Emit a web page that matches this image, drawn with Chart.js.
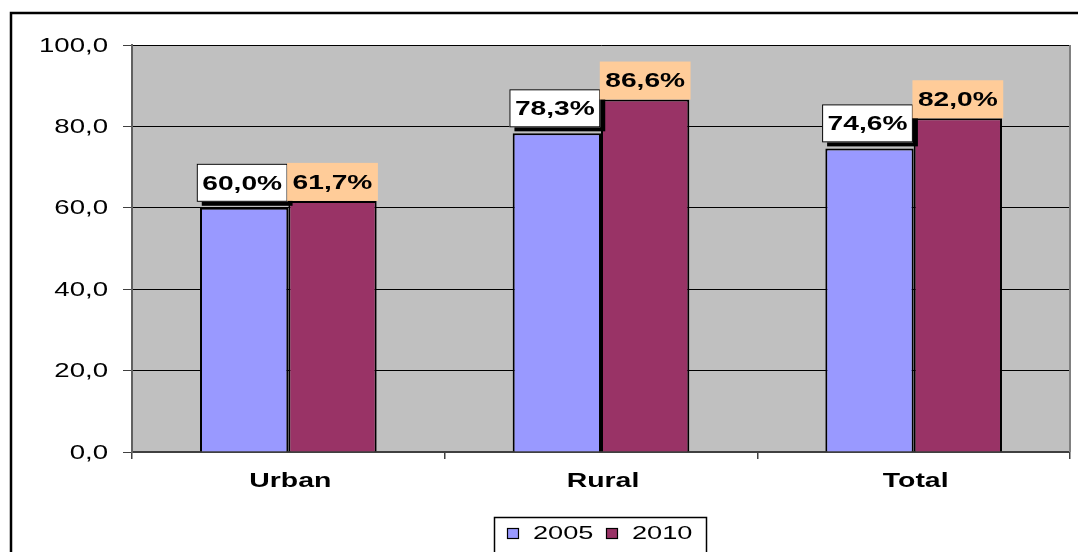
<!DOCTYPE html>
<html>
<head>
<meta charset="utf-8">
<script src="https://cdn.jsdelivr.net/npm/chart.js@4/dist/chart.umd.min.js"></script>
<style>
  html, body { margin: 0; padding: 0; background: #fff; }
  #wrap { position: relative; width: 1078px; height: 552px; }
</style>
</head>
<body>
<div id="wrap"><canvas id="myChart" width="1078" height="552"></canvas></div>
<script>
var categories = ['Urban', 'Rural', 'Total'];
var years = ['2005', '2010'];
var values2005 = [60.0, 78.3, 74.6];
var values2010 = [61.7, 86.6, 82.0];
var yTicks = [0, 20, 40, 60, 80, 100];

var FONT = '"Liberation Sans", Arial, sans-serif';

function fmt(v) {
    return v.toFixed(1).replace('.', ',');
}

// El texto del original está estirado en horizontal: se dibuja con escala
function wideText(ctx, text, x, y, align, sx) {
    ctx.save();
    ctx.translate(x, y);
    ctx.scale(sx, 1);
    ctx.textAlign = align;
    ctx.textBaseline = 'middle';
    ctx.fillText(text, 0, 0);
    ctx.restore();
}

// Fondo gris del área del gráfico, marco exterior, rótulos de ejes y leyenda
var decor = {
    id: 'decor',
    beforeDraw: function(chart) {
        var ctx = chart.ctx, a = chart.chartArea;
        ctx.save();
        ctx.fillStyle = '#c0c0c0';
        ctx.fillRect(a.left, a.top, a.right - a.left, a.bottom - a.top);
        ctx.strokeStyle = '#000';
        ctx.lineWidth = 2.5;
        ctx.strokeRect(11, 13, 1200, 700);
        ctx.restore();
    },
    afterDraw: function(chart) {
        var ctx = chart.ctx, a = chart.chartArea;
        var xs = chart.scales.x, ys = chart.scales.y;
        ctx.save();
        // borde derecho del área
        ctx.strokeStyle = '#808080';
        ctx.lineWidth = 2;
        ctx.beginPath();
        ctx.moveTo(a.right, a.top);
        ctx.lineTo(a.right, a.bottom);
        ctx.stroke();

        ctx.fillStyle = '#000';
        // rótulos del eje Y
        ctx.font = '20px ' + FONT;
        ys.ticks.forEach(function(t) {
            wideText(ctx, fmt(t.value), 108, ys.getPixelForValue(t.value) + 1, 'right', 1.38);
        });
        // rótulos del eje X
        ctx.font = 'bold 20px ' + FONT;
        chart.data.labels.forEach(function(lab, i) {
            wideText(ctx, lab, xs.getPixelForTick(i) + 2, 481, 'center', 1.42);
        });

        // leyenda
        ctx.fillStyle = '#fff';
        ctx.fillRect(494, 517, 212, 60);
        ctx.strokeStyle = '#000';
        ctx.lineWidth = 1.5;
        ctx.strokeRect(494.5, 517.5, 212, 60);
        ctx.font = '19px ' + FONT;
        var x = 507;
        chart.data.datasets.forEach(function(ds) {
            ctx.fillStyle = ds.backgroundColor;
            ctx.fillRect(x, 528, 12, 11);
            ctx.strokeStyle = '#000';
            ctx.lineWidth = 1.2;
            ctx.strokeRect(x + 0.5, 528.5, 11, 10);
            ctx.fillStyle = '#000';
            wideText(ctx, ds.label, x + 26, 534, 'left', 1.43);
            x += 99;
        });
        ctx.restore();
    }
};

// Etiquetas de datos con caja
var boxLabels = {
    id: 'boxLabels',
    afterDatasetsDraw: function(chart) {
        var ctx = chart.ctx;
        var sx = 1.34;
        ctx.save();
        ctx.font = 'bold 21px ' + FONT;
        chart.data.datasets.forEach(function(ds, di) {
            var meta = chart.getDatasetMeta(di);
            meta.data.forEach(function(bar, i) {
                var text = fmt(ds.data[i]) + '%';
                var tw = ctx.measureText(text).width * sx;
                var w = tw + 11;
                var h = 38;
                var cx = bar.x - (di === 0 ? 2 : 0);
                var bottom = di === 0 ? bar.y - 6 : bar.y;
                var x0 = cx - w / 2, y0 = bottom - h;
                if (di === 0) {
                    ctx.fillStyle = '#000';
                    ctx.fillRect(x0 + 5, y0 + 4, w, h);
                    ctx.fillStyle = '#fff';
                    ctx.fillRect(x0, y0, w, h);
                    ctx.strokeStyle = '#000';
                    ctx.lineWidth = 1;
                    ctx.strokeRect(x0 + 0.5, y0 + 0.5, w - 1, h - 1);
                } else {
                    ctx.fillStyle = '#ffcc99';
                    ctx.fillRect(x0, y0, w, h);
                }
                ctx.fillStyle = '#000';
                wideText(ctx, text, cx, y0 + h / 2 + 1, 'center', sx);
            });
        });
        ctx.restore();
    }
};

var ctx = document.getElementById('myChart').getContext('2d');
var chart = new Chart(ctx, {
    type: 'bar',
    data: {
        labels: categories,
        datasets: [{
            label: years[0],
            data: values2005,
            backgroundColor: '#9999ff',
            borderColor: '#000',
            borderWidth: 2,
            borderSkipped: 'bottom'
        }, {
            label: years[1],
            data: values2010,
            backgroundColor: '#993366',
            borderColor: '#000',
            borderWidth: 2,
            borderSkipped: 'bottom'
        }]
    },
    options: {
        responsive: false,
        animation: false,
        layout: { padding: { top: 45, right: 8, left: 0, bottom: 0 } },
        plugins: {
            legend: { display: false },
            tooltip: { enabled: false }
        },
        datasets: {
            bar: { barPercentage: 1, categoryPercentage: 0.565 }
        },
        scales: {
            x: {
                grid: {
                    display: true,
                    offset: true,
                    drawOnChartArea: false,
                    drawTicks: true,
                    tickLength: 7,
                    color: '#404040',
                    lineWidth: 1.5
                },
                border: { color: '#404040', width: 2 },
                ticks: { display: false },
                afterFit: function(scale) { scale.height = 100; }
            },
            y: {
                min: 0,
                max: 100,
                afterBuildTicks: function(scale) {
                    scale.ticks = yTicks.map(function(v) { return { value: v }; });
                },
                grid: {
                    color: '#000',
                    lineWidth: 1,
                    tickLength: 9,
                    tickColor: '#404040'
                },
                border: { color: '#606060', width: 2 },
                ticks: { display: false },
                afterFit: function(scale) { scale.width = 132; }
            }
        }
    },
    plugins: [decor, boxLabels]
});
</script>
</body>
</html>
